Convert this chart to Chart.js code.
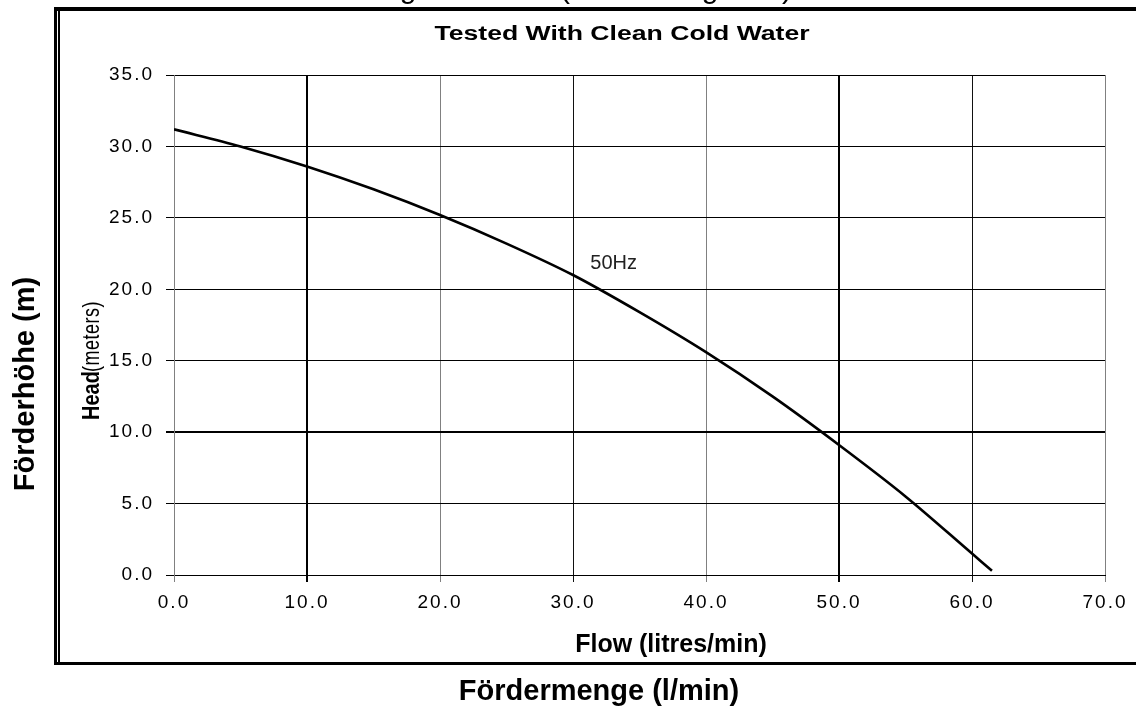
<!DOCTYPE html>
<html>
<head>
<meta charset="utf-8">
<script src="https://cdn.jsdelivr.net/npm/chart.js@4.4.1/dist/chart.umd.min.js"></script>
<style>
  html, body { margin: 0; padding: 0; background: #fff; }
  canvas { display: block; }
</style>
</head>
<body>
<canvas id="pumpChart" width="1136" height="706"></canvas>
<script>
// pump curve (flow l/min -> head m)
const flow = [0, 5, 10, 15, 20, 25, 30, 35, 40, 45, 50, 55, 60, 61.5];
const head = [31.2, 30.0, 28.6, 27.0, 25.2, 23.2, 21.0, 18.4, 15.6, 12.5, 9.1, 5.5, 1.5, 0.3];
const flowTicks = [0, 10, 20, 30, 40, 50, 60, 70];
const headTicks = [0, 5, 10, 15, 20, 25, 30, 35];

const curveName = '50Hz';
const chartTitle = 'Tested With Clean Cold Water';
const xTitle = 'Flow (litres/min)';
const yTitleMain = 'Head';
const yTitleUnit = '(meters)';
const outerX = 'Fördermenge (l/min)';
const outerY = 'Förderhöhe (m)';
// only the descenders of the sheet heading survive at the top edge
const headingBits = ['g', '(', 'g', ')'];

const points = flow.map((f, i) => ({ x: f, y: head[i] }));

function putText(ctx, str, x, y, font, o) {
  o = o || {};
  ctx.save();
  ctx.translate(x, y);
  if (o.rotate) ctx.rotate(o.rotate);
  ctx.scale(o.sx || 1, o.sy || 1);
  ctx.font = font;
  ctx.fillStyle = o.color || '#000';
  ctx.textAlign = o.align || 'center';
  ctx.textBaseline = o.baseline || 'alphabetic';
  if (o.spacing) ctx.letterSpacing = o.spacing;
  ctx.fillText(str, 0, 0);
  ctx.restore();
}

const sheet = {
  id: 'sheet',
  beforeDraw(chart) {
    const ctx = chart.ctx;
    ctx.save();
    ctx.fillStyle = '#fff';
    ctx.fillRect(0, 0, chart.width, chart.height);
    ctx.restore();
    // the tick numbers on the sheet are set wide
    ctx.letterSpacing = '2px';
  },
  afterDraw(chart) {
    const ctx = chart.ctx;
    ctx.letterSpacing = '0px';
    const W = chart.width;

    // frame
    ctx.fillStyle = '#000';
    ctx.fillRect(54, 7, W - 54, 4);
    ctx.fillRect(54, 7, 3, 658);
    ctx.fillRect(58, 11, 2, 651);
    ctx.fillRect(54, 662, W - 54, 3);

    // cut-off heading
    const bitX = [408, 565, 710, 787];
    headingBits.forEach((c, i) => putText(ctx, c, bitX[i], -2, '30px "Liberation Sans", Arial, sans-serif'));

    putText(ctx, chartTitle, 622, 40, 'bold 20px "Liberation Sans", Arial, sans-serif', { sx: 1.33 });

    putText(ctx, xTitle, 671, 652, 'bold 25px "Liberation Sans", Arial, sans-serif');

    // y title, rotated
    putText(ctx, yTitleMain, 99, 420, 'bold 20px "Liberation Sans", Arial, sans-serif',
      { rotate: -Math.PI / 2, align: 'left', sy: 1.2 });
    putText(ctx, yTitleUnit, 99, 372, '18px "Liberation Sans", Arial, sans-serif',
      { rotate: -Math.PI / 2, align: 'left', sy: 1.3, spacing: '0.5px' });

    putText(ctx, outerX, 599, 700, 'bold 29px "Liberation Sans", Arial, sans-serif');
    putText(ctx, outerY, 34, 384, 'bold 29px "Liberation Sans", Arial, sans-serif',
      { rotate: -Math.PI / 2 });

    // curve label
    const xs = chart.scales.x, ys = chart.scales.y;
    putText(ctx, curveName, xs.getPixelForValue(31.3), ys.getPixelForValue(21.4),
      '20px "Liberation Sans", Arial, sans-serif', { align: 'left', color: '#222' });
  }
};

const darkX = { 10: '#000', 30: '#111', 50: '#000', 60: '#111' };
const wideX = { 10: 2, 50: 2 };
const tickFont = { family: '"Liberation Sans", Arial, sans-serif', size: 19 };

new Chart(document.getElementById('pumpChart'), {
  type: 'line',
  data: {
    datasets: [{
      label: curveName,
      data: points,
      borderColor: '#000',
      borderWidth: 2.6,
      pointRadius: 0,
      tension: 0.4,
      cubicInterpolationMode: 'monotone',
      fill: false
    }]
  },
  options: {
    responsive: false,
    animation: false,
    events: [],
    layout: { padding: { left: 61, right: 31, top: 75, bottom: 44 } },
    plugins: {
      legend: { display: false },
      tooltip: { enabled: false },
      title: { display: false }
    },
    scales: {
      x: {
        type: 'linear',
        min: 0,
        max: 70,
        afterBuildTicks: s => { s.ticks = flowTicks.map(v => ({ value: v })); },
        afterFit: s => { s.height = 87; },
        ticks: {
          callback: v => v.toFixed(1),
          font: tickFont,
          color: '#000',
          padding: 9,
          maxRotation: 0,
          autoSkip: false
        },
        grid: {
          color: c => darkX[c.tick && c.tick.value] || '#808080',
          lineWidth: c => wideX[c.tick && c.tick.value] || 1,
          tickLength: 7
        },
        border: { color: '#000', width: 1 }
      },
      y: {
        type: 'linear',
        min: 0,
        max: 35,
        afterBuildTicks: s => { s.ticks = headTicks.map(v => ({ value: v })); },
        afterFit: s => { s.width = 113; },
        ticks: {
          callback: v => v.toFixed(1),
          font: tickFont,
          color: '#000',
          padding: 12,
          autoSkip: false
        },
        grid: {
          color: '#000',
          lineWidth: c => (c.tick && c.tick.value === 10) ? 2 : 1,
          tickLength: 8
        },
        border: { color: '#808080', width: 1 }
      }
    }
  },
  plugins: [sheet]
});
</script>
</body>
</html>
